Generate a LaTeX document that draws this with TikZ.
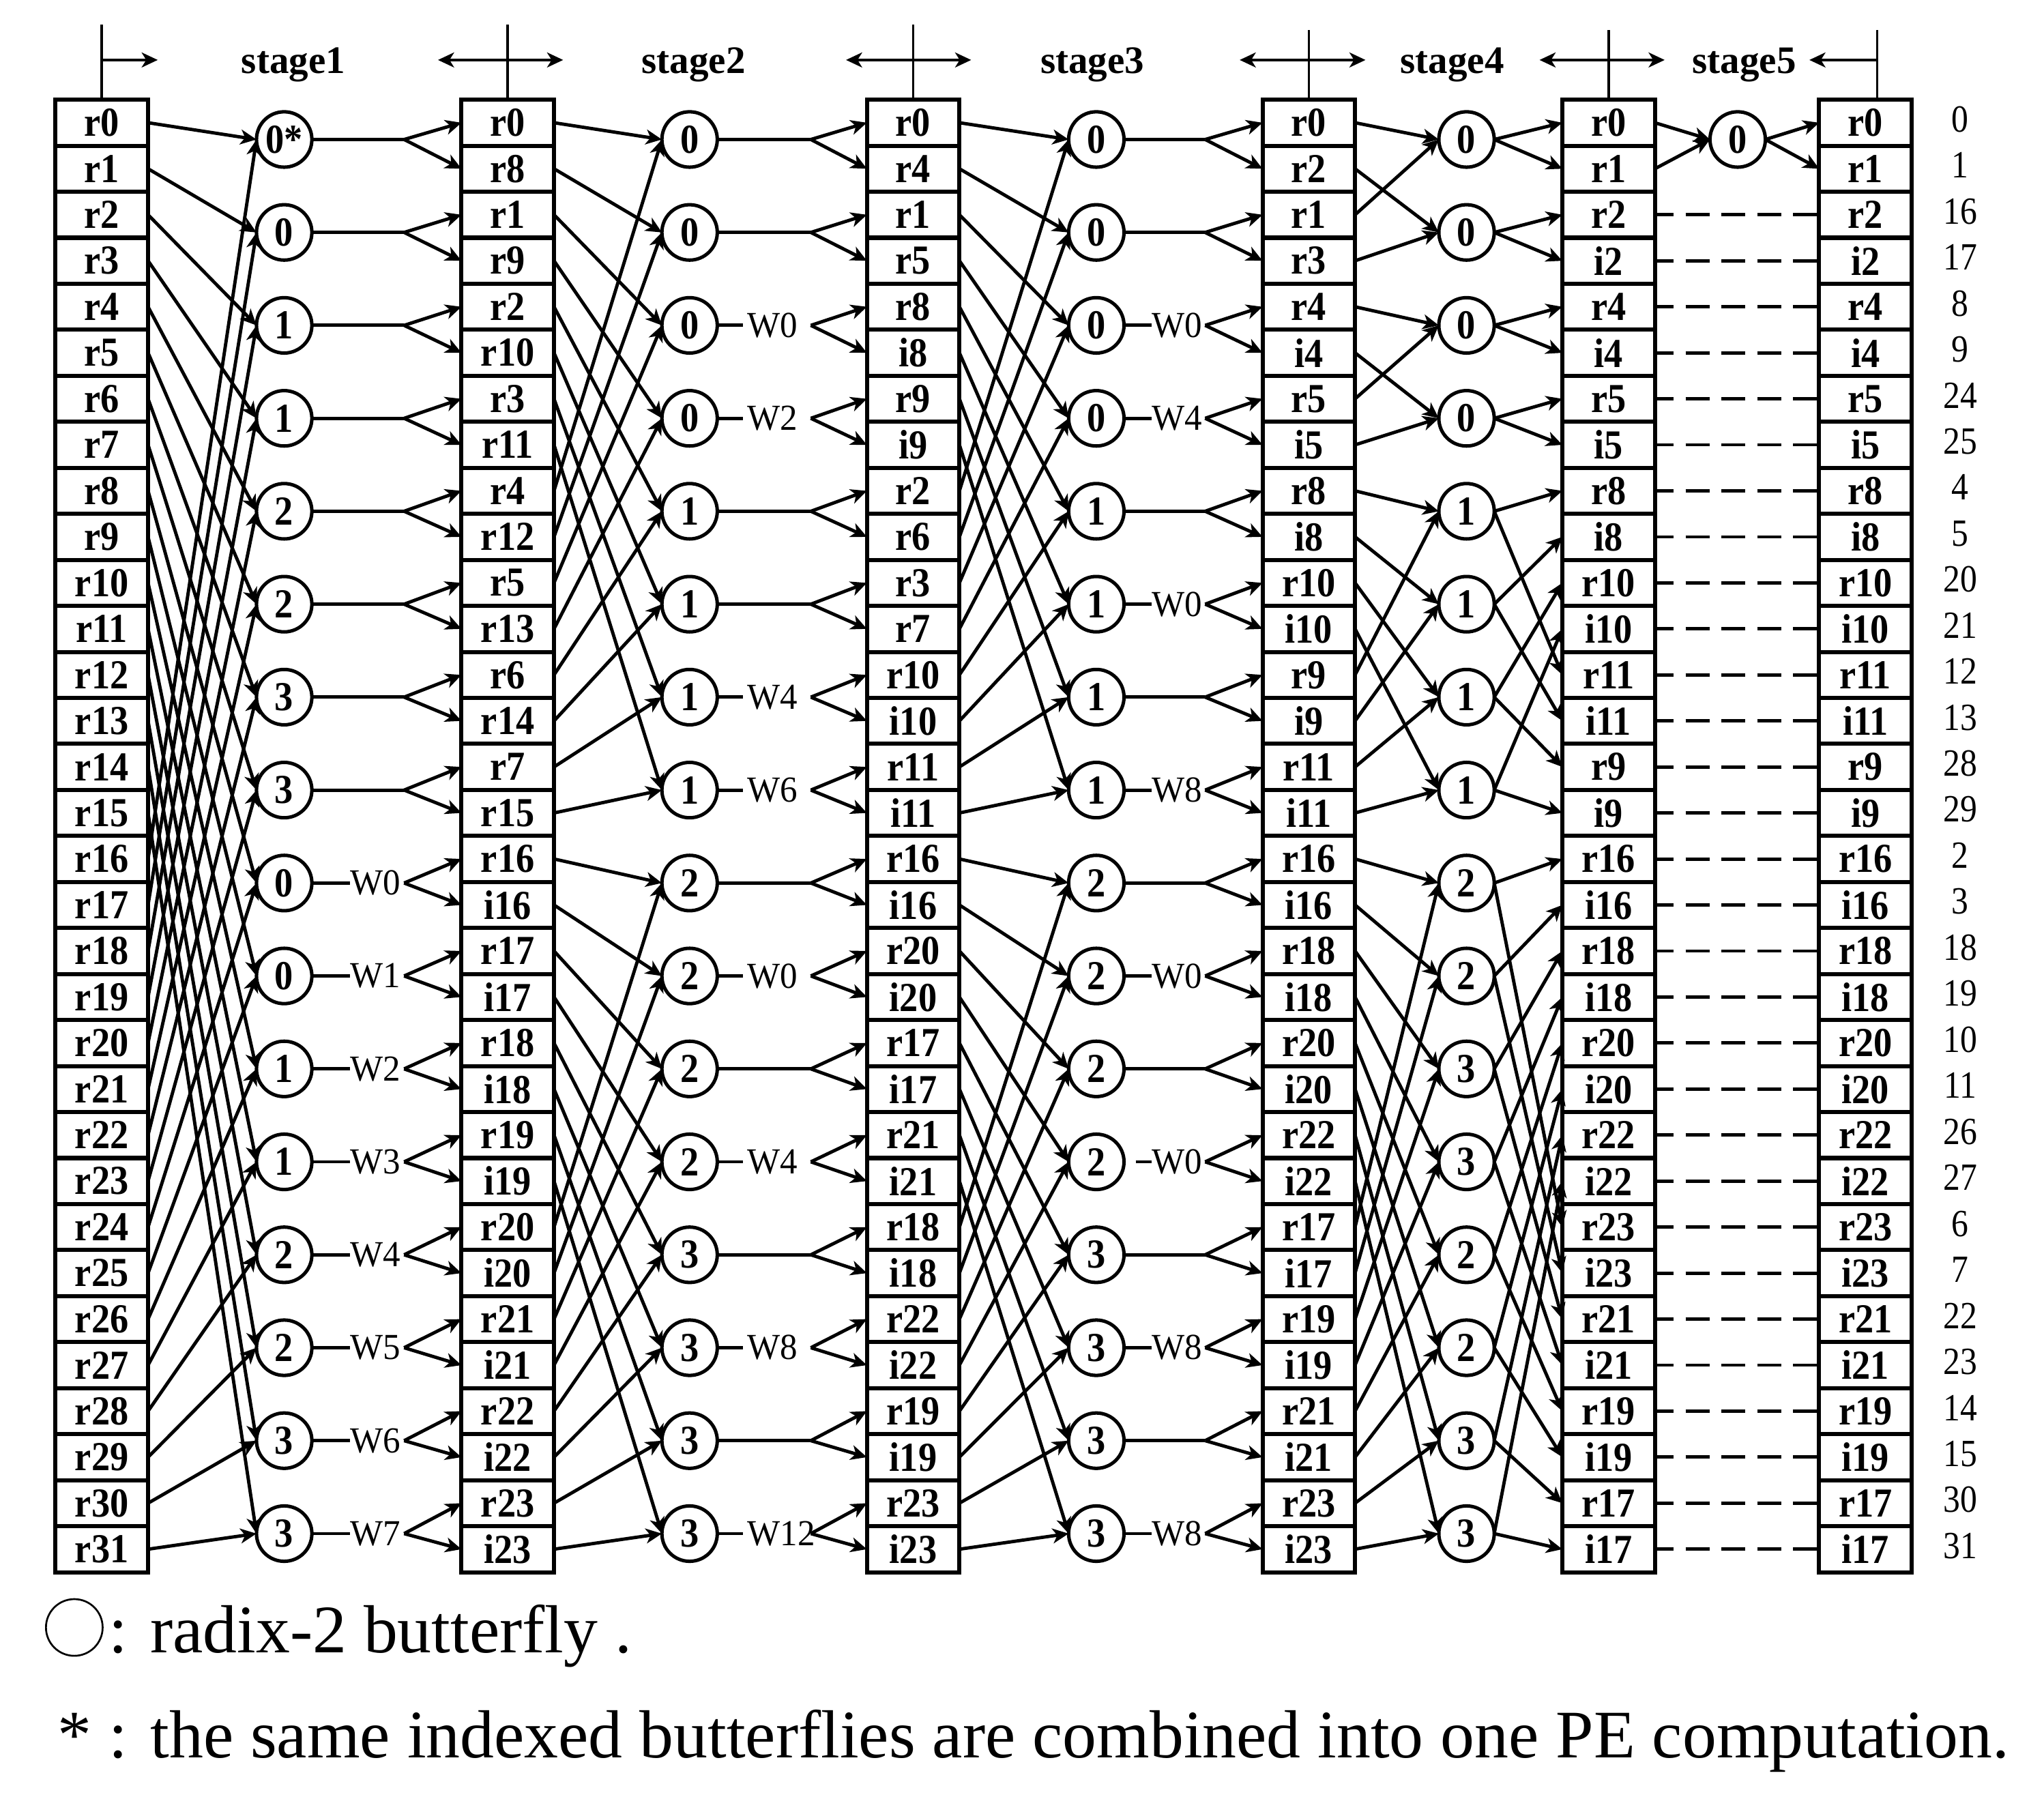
\documentclass[tikz,border=0pt]{standalone}
\usepackage{fontspec}
\setmainfont{Liberation Serif}
\usepackage{graphicx}
\usetikzlibrary{arrows.meta}
\newcommand{\cz}[1]{\scalebox{0.9}[1]{#1}}
\begin{document}
\begin{tikzpicture}[x=0.02cm,y=-0.02cm,
 cell/.style={draw,line width=1.8pt,minimum width=1.42cm,minimum height=0.706cm,inner sep=0pt,outer sep=0pt,font=\fontsize{18}{18}\selectfont\bfseries},
 bfly/.style={draw,circle,line width=1.5pt,minimum size=0.85cm,inner sep=0pt,outer sep=0pt,font=\fontsize{18}{18}\selectfont\bfseries},
 conn/.style={line width=1.45pt},
 arr/.style={conn,-{Stealth[length=7pt,width=6.5pt,inset=2pt]}},
 twl/.style={inner sep=0pt,anchor=west,font=\fontsize{16}{16}\selectfont},
 idx/.style={inner sep=0pt,font=\fontsize{16.8}{17}\selectfont},
 stg/.style={inner sep=0pt,anchor=base,font=\fontsize{17}{17}\selectfont\bfseries},
 tick/.style={line width=1.1pt},
 harr/.style={line width=1.4pt,-{Stealth[length=7pt,width=6.5pt,inset=2pt]}},
 darr/.style={line width=1.4pt,{Stealth[length=7pt,width=6.5pt,inset=2pt]}-{Stealth[length=7pt,width=6.5pt,inset=2pt]}},
 dsh/.style={line width=1.45pt,dash pattern=on 0.37cm off 0.18cm,dash phase=0.08cm},
 leg/.style={inner sep=0pt,anchor=base west,font=\fontsize{29.7}{30}\selectfont}
]
\useasboundingbox (0,0) rectangle (1568,1380);

% ---------- register columns ----------
\foreach \i in {0,...,31}
  \node[cell] (c0-\i) at (78.1,{94.15+35.3*\i}) {\cz{r\i}};
\foreach \t [count=\i from 0] in {r0,r8,r1,r9,r2,r10,r3,r11,r4,r12,r5,r13,r6,r14,r7,r15,r16,i16,r17,i17,r18,i18,r19,i19,r20,i20,r21,i21,r22,i22,r23,i23}
  \node[cell] (c1-\i) at (389.5,{94.15+35.3*\i}) {\cz{\t}};
\foreach \t [count=\i from 0] in {r0,r4,r1,r5,r8,i8,r9,i9,r2,r6,r3,r7,r10,i10,r11,i11,r16,i16,r20,i20,r17,i17,r21,i21,r18,i18,r22,i22,r19,i19,r23,i23}
  \node[cell] (c2-\i) at (700.5,{94.15+35.3*\i}) {\cz{\t}};
\foreach \t [count=\i from 0] in {r0,r2,r1,r3,r4,i4,r5,i5,r8,i8,r10,i10,r9,i9,r11,i11,r16,i16,r18,i18,r20,i20,r22,i22,r17,i17,r19,i19,r21,i21,r23,i23}
  \node[cell] (c3-\i) at (1004,{94.15+35.3*\i}) {\cz{\t}};
\foreach \t [count=\i from 0] in {r0,r1,r2,i2,r4,i4,r5,i5,r8,i8,r10,i10,r11,i11,r9,i9,r16,i16,r18,i18,r20,i20,r22,i22,r23,i23,r21,i21,r19,i19,r17,i17}
  \node[cell] (c4-\i) at (1234,{94.15+35.3*\i}) {\cz{\t}};
\foreach \t [count=\i from 0] in {r0,r1,r2,i2,r4,i4,r5,i5,r8,i8,r10,i10,r11,i11,r9,i9,r16,i16,r18,i18,r20,i20,r22,i22,r23,i23,r21,i21,r19,i19,r17,i17}
  \node[cell] (c5-\i) at (1431,{94.15+35.3*\i}) {\cz{\t}};

% index numbers
\foreach \n [count=\i from 0] in {0,1,16,17,8,9,24,25,4,5,20,21,12,13,28,29,2,3,18,19,10,11,26,27,6,7,22,23,14,15,30,31}
  \node[idx] (n\i) at (1503.7,{91.5+35.3*\i}) {\scalebox{0.88}[1]{\n}};

% ---------- stage 1 ----------
\foreach \l [count=\i from 0] in {0*,0,1,1,2,2,3,3,0,0,1,1,2,2,3,3} {
  \node[bfly] (s1-\i) at (218,{107+71.3*\i}) {\cz{\l}};
  \coordinate (f1-\i) at (310,{107+71.3*\i});
}
\foreach \i in {0,...,15} {
  \pgfmathtruncatemacro\a{\i}
  \pgfmathtruncatemacro\b{\i+16}
  \pgfmathtruncatemacro\p{2*\i}
  \pgfmathtruncatemacro\q{2*\i+1}
  \draw[arr] (c0-\a.east) -- (s1-\i.west);
  \draw[arr] (c0-\b.east) -- (s1-\i.west);
  \draw[arr] (f1-\i) -- (c1-\p.west);
  \draw[arr] (f1-\i) -- (c1-\q.west);
}
\foreach \i in {0,...,7} \draw[conn] (s1-\i.east) -- (f1-\i);
\foreach \i/\w in {8/0,9/1,10/2,11/3,12/4,13/5,14/6,15/7} {
  \node[twl] (t1-\i) at (268.5,{107+71.3*\i}) {\scalebox{0.95}[1]{W\w}};
  \draw[conn] (s1-\i.east) -- (t1-\i.west);
}

% ---------- stage 2 ----------
\foreach \l [count=\i from 0] in {0,0,0,0,1,1,1,1,2,2,2,2,3,3,3,3} {
  \node[bfly] (s2-\i) at (529,{107+71.3*\i}) {\cz{\l}};
  \coordinate (f2-\i) at (622,{107+71.3*\i});
}
\foreach \i in {0,...,15} {
  \pgfmathtruncatemacro\a{16*int(\i/8)+mod(\i,8)}
  \pgfmathtruncatemacro\b{\a+8}
  \pgfmathtruncatemacro\p{2*\i}
  \pgfmathtruncatemacro\q{2*\i+1}
  \draw[arr] (c1-\a.east) -- (s2-\i.west);
  \draw[arr] (c1-\b.east) -- (s2-\i.west);
  \draw[arr] (f2-\i) -- (c2-\p.west);
  \draw[arr] (f2-\i) -- (c2-\q.west);
}
\foreach \i in {0,1,4,5,8,10,12,14} \draw[conn] (s2-\i.east) -- (f2-\i);
\foreach \i/\w in {2/0,3/2,6/4,7/6,9/0,11/4,13/8,15/12} {
  \node[twl,inner xsep=0.06cm] (t2-\i) at (570,{107+71.3*\i}) {\scalebox{0.95}[1]{W\w}};
  \draw[conn] (s2-\i.east) -- (t2-\i.west);
}

% ---------- stage 3 ----------
\foreach \l [count=\i from 0] in {0,0,0,0,1,1,1,1,2,2,2,2,3,3,3,3} {
  \node[bfly] (s3-\i) at (841,{107+71.3*\i}) {\cz{\l}};
  \coordinate (f3-\i) at (924.5,{107+71.3*\i});
}
\foreach \i in {0,...,15} {
  \pgfmathtruncatemacro\a{16*int(\i/8)+mod(\i,8)}
  \pgfmathtruncatemacro\b{\a+8}
  \pgfmathtruncatemacro\p{2*\i}
  \pgfmathtruncatemacro\q{2*\i+1}
  \draw[arr] (c2-\a.east) -- (s3-\i.west);
  \draw[arr] (c2-\b.east) -- (s3-\i.west);
  \draw[arr] (f3-\i) -- (c3-\p.west);
  \draw[arr] (f3-\i) -- (c3-\q.west);
}
\foreach \i in {0,1,4,6,8,10,12,14} \draw[conn] (s3-\i.east) -- (f3-\i);
\foreach \i/\w in {2/0,3/4,5/0,7/8,9/0,13/8,15/8} {
  \node[twl] (t3-\i) at (883.5,{107+71.3*\i}) {\scalebox{0.95}[1]{W\w}};
  \draw[conn] (s3-\i.east) -- (t3-\i.west);
}
\node[twl] (t3-11) at (883.5,{107+71.3*11}) {\scalebox{0.95}[1]{W0}};
\draw[conn] ([xshift=0.18cm]s3-11.east) -- (t3-11.west);

% ---------- stage 4 ----------
\foreach \l [count=\i from 0] in {0,0,0,0,1,1,1,1,2,2,3,3,2,2,3,3}
  \node[bfly] (s4-\i) at (1125,{107+71.3*\i}) {\cz{\l}};
\foreach \i/\a/\b in {0/0/2,1/1/3,2/4/6,3/5/7,4/8/12,5/9/13,6/10/14,7/11/15,8/16/24,9/17/25,10/18/26,11/19/27,12/20/28,13/21/29,14/22/30,15/23/31} {
  \draw[arr] (c3-\a.east) -- (s4-\i.west);
  \draw[arr] (c3-\b.east) -- (s4-\i.west);
}
\foreach \i/\a/\b in {0/0/1,1/2/3,2/4/5,3/6/7,4/8/12,5/9/13,6/10/14,7/11/15,8/16/24,9/17/25,10/18/26,11/19/27,12/20/28,13/21/29,14/22/30,15/23/31} {
  \draw[arr] (s4-\i.east) -- (c4-\a.west);
  \draw[arr] (s4-\i.east) -- (c4-\b.west);
}

% ---------- stage 5 ----------
\node[bfly] (s5-0) at (1333,107) {\cz{0}};
\draw[arr] (c4-0.east) -- (s5-0.west);
\draw[arr] (c4-1.east) -- (s5-0.west);
\draw[arr] (s5-0.east) -- (c5-0.west);
\draw[arr] (s5-0.east) -- (c5-1.west);
\foreach \i in {2,...,31} \draw[dsh] (c4-\i.east) -- (c5-\i.west);

% ---------- header ----------
\coordinate (h0) at (78.1,19);   \draw[tick] (h0) -- (c0-0.north);
\coordinate (h1) at (389.5,19);  \draw[tick] (h1) -- (c1-0.north);
\coordinate (h2) at (700.5,19);  \draw[tick] (h2) -- (c2-0.north);
\coordinate (h3) at (1004,23);   \draw[tick] (h3) -- (c3-0.north);
\coordinate (h4) at (1234,23);   \draw[tick] (h4) -- (c4-0.north);
\coordinate (h5) at (1440,23);   \draw[tick] (h5) -- (c5-0.north -| h5);

\coordinate (a0l) at (78.1,46);  \coordinate (a0r) at (121,46);
\coordinate (a1l) at (336,46);   \coordinate (a1r) at (432,46);
\coordinate (a2l) at (649,46);   \coordinate (a2r) at (745,46);
\coordinate (a3l) at (951,46);   \coordinate (a3r) at (1047.5,46);
\coordinate (a4l) at (1181,46);  \coordinate (a4r) at (1277,46);
\coordinate (a5l) at (1388,46);  \coordinate (a5r) at (1440,46);
\draw[harr] (a0l) -- (a0r);
\draw[darr] (a1l) -- (a1r);
\draw[darr] (a2l) -- (a2r);
\draw[darr] (a3l) -- (a3r);
\draw[darr] (a4l) -- (a4r);
\draw[harr] (a5r) -- (a5l);

\node[stg] (g1) at (225,56) {stage1};
\node[stg] (g2) at (532,56) {stage2};
\node[stg] (g3) at (838,56) {stage3};
\node[stg] (g4) at (1114,56) {stage4};
\node[stg] (g5) at (1338,56) {stage5};

% ---------- legend ----------
\node[draw,circle,line width=0.8pt,minimum size=0.87cm,inner sep=0pt] (legc) at (57,1248.5) {};
\node[leg] (leg1) at (83,1268) {: radix-2 butterfly .};
\node[leg] (leg2) at (44,1348.4) {* : the same indexed butterflies are combined into one PE computation.};
\end{tikzpicture}
\end{document}
